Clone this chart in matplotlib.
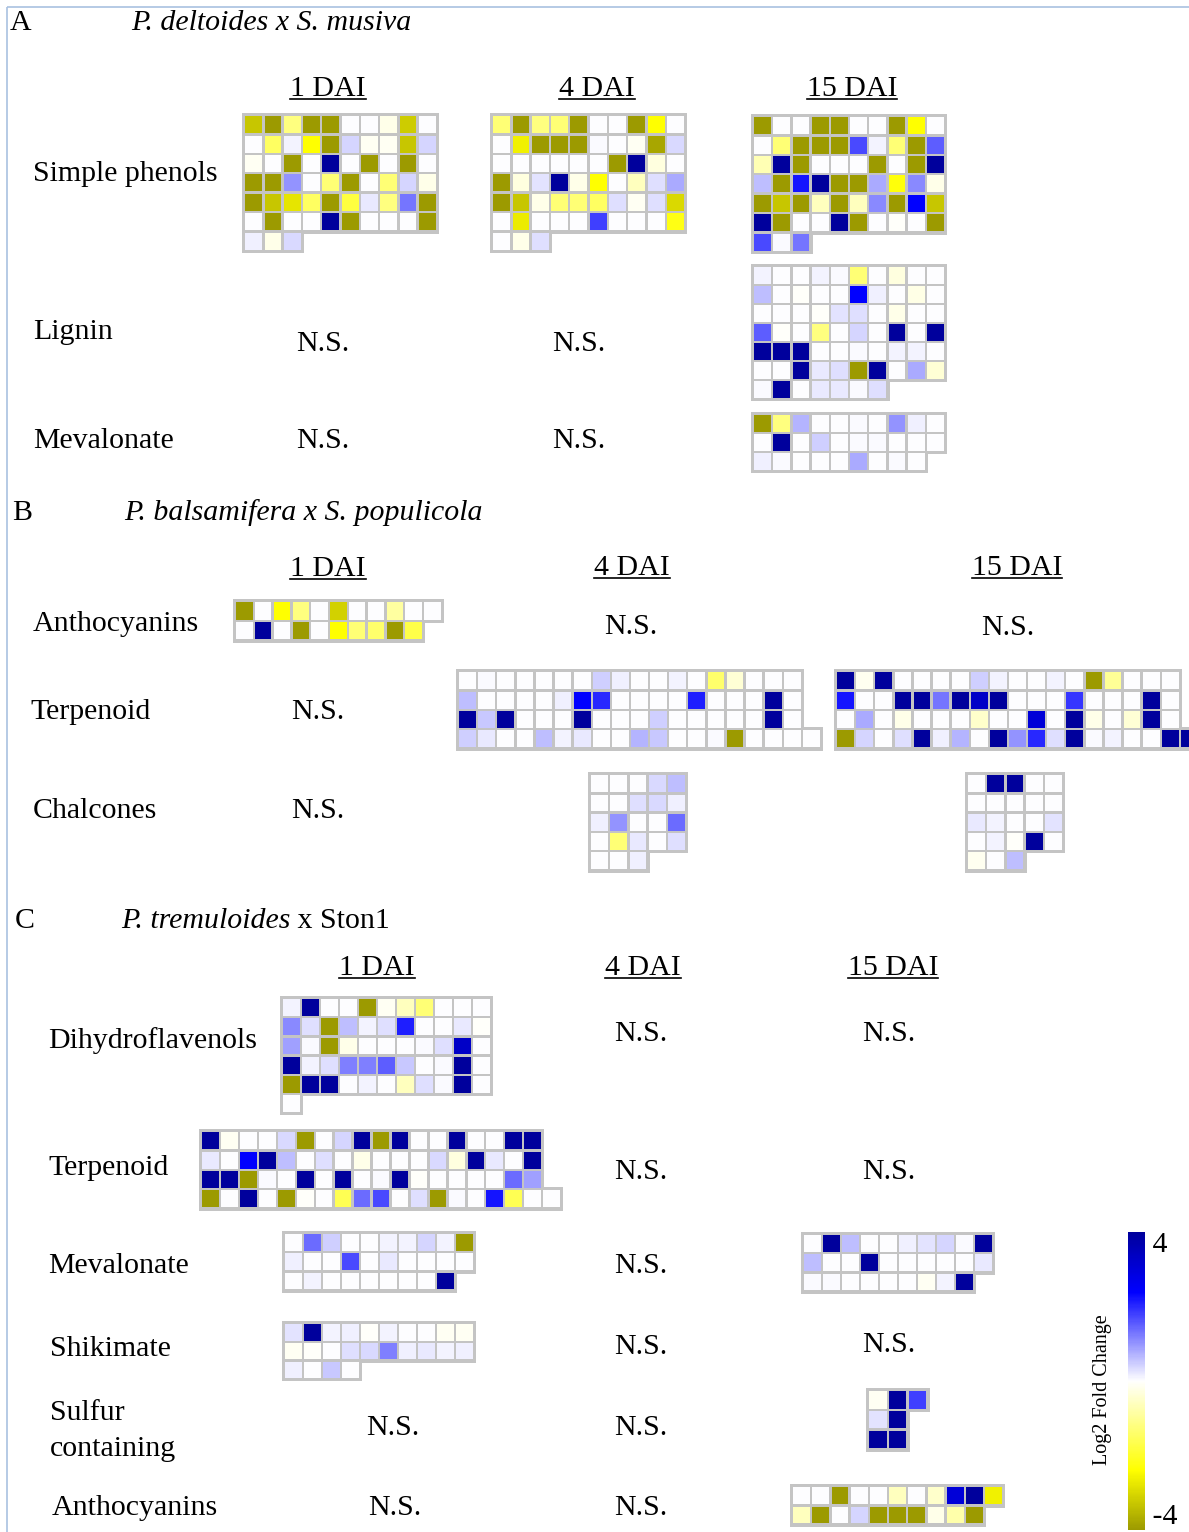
import matplotlib
matplotlib.use("Agg")
import matplotlib.pyplot as plt
from matplotlib.patches import Rectangle
from matplotlib.colors import LinearSegmentedColormap, Normalize
from matplotlib.cm import ScalarMappable

plt.rcParams['axes.unicode_minus'] = False
SERIF = ['Liberation Serif', 'DejaVu Serif']

# ---------------- data (log2 fold change per cell) ----------------
A_phenols_1 = [
    [-3.3, -4, -1.2, -4, -4, 0, 0, -0.2, -3.2, 0],
    [0, -1.5, 0.1, -2.4, -4, 0.4, -0.1, -0.1, -3.3, 0.4],
    [-0.1, 0, -4, 0, 4, 0, -4, 0, -4, 0],
    [-4, -4, 1.0, 0, -1.3, -4, 0, -1.3, 0.4, -0.2],
    [-4, -3.3, -2.8, -1.5, -4, -1.8, 0.2, -1.2, 1.3, -4],
    [0, -4, 0, 0, 4, -4, 0, 0, 0, -4],
    [0.15, -0.2, 0.35],
]
A_phenols_4 = [
    [-1.3, -4, -1.2, -1.3, -4, 0, 0, -4, -2.4, 0],
    [0, -2.6, -4, -4, -4, 0.05, 0, -0.1, -3.8, 0.35],
    [0, 0, 0, 0, 0, 0, -4, 4, -0.3, 0],
    [-4, -0.3, 0.25, 4, -0.2, -2.4, 0, -0.6, 0.3, 0.8],
    [-4, -3.3, -0.2, -1.3, -1.3, -1.5, 0.3, -0.1, 0.3, -3.0],
    [0, -2.7, 0, 0, 0, 1.8, 0, 0, 0, -2.2],
    [0, -0.2, 0.3],
]
A_phenols_15 = [
    [-4, 0, 0, -4, -4, 0, 0, -4, -2.4, 0],
    [0, -1.3, -4, -4, -4, 1.7, 0.1, -1.3, -4, 1.5],
    [-0.7, 4, -4, 0, 0, 0, -4, 0, -4, 4],
    [0.6, -4, 2.2, 4, -4, -4, 0.8, -2.3, 1.1, -0.2],
    [-4, -3.3, -4, -0.6, -4, -0.6, 1.1, -4, 2.4, -3.3],
    [4, -4, 0, 0, 4, -4, 0, -0.05, 0, -4],
    [1.7, 0.05, 1.3],
]
A_lignin_15 = [
    [0.1, 0, 0, 0.1, 0.05, -1.3, 0, -0.3, 0, 0],
    [0.6, 0, -0.05, 0, 0, 2.4, 0.15, 0, -0.25, 0],
    [0, 0, 0, -0.05, 0.25, 0.3, 0, -0.2, 0, 0],
    [1.5, -0.05, 0, -1.2, 0, 0.4, 0, 4, 0, 4],
    [4, 4, 4, 0, 0, 0.05, 0, 0.1, 0.1, 0],
    [0, 0, 4, 0.2, 0.3, -4, 4, 0, 0.8, -0.4],
    [0.05, 4, 0, 0.2, 0.2, 0.05, 0.3],
]
A_meva_15 = [
    [-4, -1.2, 0.7, 0, 0, 0.05, 0, 1.0, 0.15, 0],
    [0, 4, 0, 0.45, 0, 0.05, 0.05, 0, 0, 0],
    [0.15, 0.05, 0, 0, 0, 0.8, 0, 0.05, 0],
]
B_antho_1 = [
    [-4, 0, -2.4, -1.2, 0, -3.1, 0, 0, -0.9, 0, 0],
    [0, 4, 0, -4, 0, -2.4, -1.3, -1.4, -4, -1.7],
]
B_terp_4 = [
    [0, 0.05, 0, 0, 0, 0, 0, 0.45, 0.15, 0, 0, 0.1, 0, -1.4, -0.4, 0, 0, 0],
    [0.6, 0, 0, 0, 0, 0.15, 2.4, 2.0, 0, 0, 0, 0, 2.1, 0, 0, 0, 4, 0],
    [4, 0.5, 4, 0, 0, 0, 4, 0, 0, 0, 0.45, 0, 0, 0, 0, 0, 4, 0],
    [0.45, 0.2, 0, 0, 0.6, 0.1, 0.2, 0, 0, 0.7, 0.5, 0, 0, 0.05, -4, 0, 0, 0, 0],
]
B_terp_15 = [
    [4, -0.15, 4, 0, 0, 0, 0, 0.45, 0.1, 0, 0, 0.1, 0, -4, -1.0, 0, 0, 0],
    [2.2, 0, 0, 4, 4, 1.3, 4, 3.3, 4, 0, 0, 0, 1.9, 0, 0, 0, 4, 0],
    [0, 0.8, 0, -0.2, 0, 0, 0, -0.5, 0, 0, 3.0, 0, 4, -0.2, 0, -0.4, 4, 0],
    [-4, 0.4, 0, 0.3, 4, 0.15, 0.7, 0, 4, 1.0, 2.0, 0.3, 4, 0.05, 0.1, 0, 0, 4, 4],
]
B_chal_4 = [
    [0, 0, 0, 0.35, 0.6],
    [0, 0, 0.3, 0.35, 0.15],
    [0.15, 1.0, 0, 0, 1.4],
    [0, -1.3, 0.2, 0, 0.3],
    [0, 0, 0.15],
]
B_chal_15 = [
    [0, 4, 4, 0, 0],
    [0, 0, 0, 0, 0],
    [0.2, 0.1, 0, 0, 0.25],
    [0, 0.1, -0.05, 4, 0],
    [-0.15, 0, 0.6],
]
C_dihydro_1 = [
    [0.1, 4, 0, 0, -4, -0.1, -0.6, -1.3, 0, 0, 0],
    [1.1, 0.3, -4, 0.6, 0.1, 0.3, 2.1, 0, 0, 0.2, -0.05],
    [0.9, 0.05, -4, -0.2, 0, 0, 0, 0.05, 0.3, 3.3, 0],
    [4, 0.1, 0.3, 1.2, 1.2, 1.5, 0.5, 0, 0.05, 4, 0],
    [-4, 4, 4, 0, 0.1, 0, -0.6, 0.3, 0.05, 4, 0],
    [0],
]
C_terp_1 = [
    [4, -0.1, 0, 0, 0.35, -4, 0, 0.4, 4, -4, 4, 0, 0, 4, 0, 0, 4, 4],
    [0.2, 0, 2.4, 4, 0.6, 0, 0.3, 0, -0.2, 0, 0, 0, 0.35, -0.3, 4, 0.2, 0, 4],
    [4, 4, -4, 0.05, 0, 4, 0, 4, 0, 0.05, 4, -0.05, 0, 0, 0, 0, 1.4, 0.9],
    [-4, 0, 4, 0, -4, -0.05, 0, -1.6, 1.4, 1.7, 0, 0.3, -4, 0.05, 0, 2.2, -1.6, 0, 0],
]
C_meva_1 = [
    [0, 1.4, 0.45, 0, 0, 0.1, 0.1, 0.4, 0.1, -4],
    [0.15, 0, 0, 1.7, 0, 0.2, 0, 0, 0, 0],
    [0, 0.1, 0, 0, 0, 0, 0, 0, 4],
]
C_shik_1 = [
    [0.25, 4, 0.1, 0.15, -0.05, 0.1, 0, 0, -0.1, -0.1],
    [-0.1, -0.05, 0, 0.3, 0.35, 1.2, 0.15, 0.2, 0.1, 0.15],
    [0.15, 0, 0.5, 0],
]
C_meva_15 = [
    [0, 4, 0.6, 0, 0, 0.15, 0.25, 0.4, 0.05, 4],
    [0.6, 0, 0, 4, 0, 0, 0, 0, 0, 0.2],
    [0.05, 0.05, 0, 0, 0, 0, -0.1, 0.1, 4],
]
C_sulfur_15 = [
    [-0.1, 4, 1.8],
    [0.25, 4],
    [4, 4],
]
C_antho_15 = [
    [0, 0, -4, 0, 0, -0.6, 0, -0.5, 3.0, 4, -2.6],
    [-0.6, -4, 0, 0.4, -4, -4, -4, -0.2, -0.8, -4],
]

dai_labels = ['1 DAI', '4 DAI', '15 DAI']
section_letters = ['A', 'B', 'C']
vmin, vmax = -4, 4

# ---------------- figure ----------------
fig = plt.figure(figsize=(11.89, 15.32), dpi=100)
ax = fig.add_axes([0, 0, 1, 1])
ax.set_xlim(0, 1189)
ax.set_ylim(1532, 0)
ax.axis('off')

cmap = LinearSegmentedColormap.from_list(
    'mapman', [(0.0, '#9c9a00'), (0.2, '#ffff00'), (0.5, '#ffffff'),
               (0.8, '#0000ff'), (1.0, '#00009c')])
norm = Normalize(vmin, vmax)
GREY = '#c4c4c4'


def draw_grid(rows, x0, y0, cw=19.3, ch=19.4, b=2.2, g=1.2):
    for r, row in enumerate(rows):
        for c, v in enumerate(row):
            x = x0 + c * cw
            y = y0 + r * ch
            ax.add_patch(Rectangle((x - b, y - b), cw + 2 * b, ch + 2 * b,
                                   fc=GREY, ec='none', zorder=1))
            ax.add_patch(Rectangle((x + g, y + g), cw - 2 * g, ch - 2 * g,
                                   fc=cmap(norm(v)), ec='none', zorder=2))


grids = [
    (A_phenols_1, 244, 115, 19.3, 19.4),
    (A_phenols_4, 492, 115, 19.3, 19.4),
    (A_phenols_15, 753, 116, 19.2, 19.4),
    (A_lignin_15, 753, 266, 19.2, 19.0),
    (A_meva_15, 753, 414, 19.2, 19.0),
    (B_antho_1, 235, 601, 18.8, 19.8),
    (B_terp_4, 458, 671, 19.1, 19.4),
    (B_terp_15, 836, 671, 19.1, 19.4),
    (B_chal_4, 590, 774, 19.2, 19.3),
    (B_chal_15, 967, 774, 19.2, 19.3),
    (C_dihydro_1, 282, 998, 19.0, 19.2),
    (C_terp_1, 201, 1131, 18.95, 19.4),
    (C_meva_1, 284, 1233, 19.0, 19.2),
    (C_shik_1, 284, 1323, 19.0, 18.7),
    (C_meva_15, 803, 1234, 19.0, 19.2),
    (C_sulfur_15, 868, 1390, 19.8, 19.8),
    (C_antho_15, 792, 1486, 19.2, 19.3),
]
for rows, x0, y0, cw, ch in grids:
    draw_grid(rows, x0, y0, cw, ch)

# frame lines
ax.plot([7, 7], [7, 1532], color='#a9c1e0', lw=1.2, solid_capstyle='butt')
ax.plot([7, 1189], [7, 7], color='#a9c1e0', lw=1.2, solid_capstyle='butt')

FS = 21.5


def txt(s, x, y, ha='left', style='normal', fs=FS, **kw):
    return ax.text(x, y, s, ha=ha, va='baseline', fontsize=fs,
                   family=SERIF, style=style, **kw)


# section letters and titles
txt(section_letters[0], 10, 30)
txt('P. deltoides x S. musiva', 131, 30, style='italic')
txt(section_letters[1], 12, 520)
txt('P. balsamifera x S. populicola', 124, 520, style='italic')
txt(section_letters[2], 15, 928)
t_it = txt('P. tremuloides', 121, 928, style='italic')

# DAI headers (underlined)
dai_pos = [
    [(328, 96), (597, 96), (852, 96)],
    [(328, 576), (632, 575), (1017, 575)],
    [(377, 975), (643, 975), (893, 975)],
]
dai_texts = []
for sec in dai_pos:
    for lab, (x, y) in zip(dai_labels, sec):
        dai_texts.append((txt(lab, x, y, ha='center'), y))

# row labels
row_labels = [
    ('Simple phenols', 33, 181), ('Lignin', 33, 339), ('Mevalonate', 33, 448),
    ('Anthocyanins', 33, 631), ('Terpenoid', 30, 719), ('Chalcones', 33, 818),
    ('Dihydroflavenols', 48, 1048), ('Terpenoid', 48, 1175),
    ('Mevalonate', 48, 1273), ('Shikimate', 50, 1356),
    ('Sulfur', 50, 1420), ('containing', 50, 1456), ('Anthocyanins', 52, 1515),
]
for s, x, y in row_labels:
    txt(s, x, y)

ns_pos = [(323, 351), (579, 351), (323, 448), (579, 448),
          (631, 634), (1008, 635), (318, 719), (318, 818),
          (641, 1041), (889, 1041), (641, 1179), (889, 1179),
          (641, 1273), (641, 1354), (889, 1352),
          (393, 1435), (641, 1435), (395, 1515), (641, 1515)]
for x, y in ns_pos:
    txt('N.S.', x, y, ha='center')

# underline DAI headers and finish C title
renderer = fig.canvas.get_renderer()
inv = ax.transData.inverted()
for t, y in dai_texts:
    bb = t.get_window_extent(renderer)
    (xa, _), (xb, _) = inv.transform([(bb.x0, bb.y0), (bb.x1, bb.y0)])
    ax.plot([xa, xb], [y + 3, y + 3], color='black', lw=1.2)
bb = t_it.get_window_extent(renderer)
xe = inv.transform((bb.x1, bb.y0))[0]
txt(' x Ston1', xe, 928)

# colorbar
cax = fig.add_axes([1128 / 1189, 1 - 1530 / 1532, 17 / 1189, 298 / 1532])
cb = fig.colorbar(ScalarMappable(norm=norm, cmap=cmap), cax=cax, ticks=[])
cb.outline.set_visible(False)
cax.text(1.0, 1.0, ' ' + str(vmax), transform=cax.transAxes, ha='left', va='top',
         fontsize=FS, family=SERIF)
cax.text(1.0, 0.0, ' ' + str(vmin), transform=cax.transAxes, ha='left', va='bottom',
         fontsize=FS, family=SERIF)
ax.text(1102, 1390, 'Log2 Fold Change', rotation=90, ha='center', va='center',
        fontsize=14.5, family=SERIF)

fig.savefig('out.png', dpi=100)
